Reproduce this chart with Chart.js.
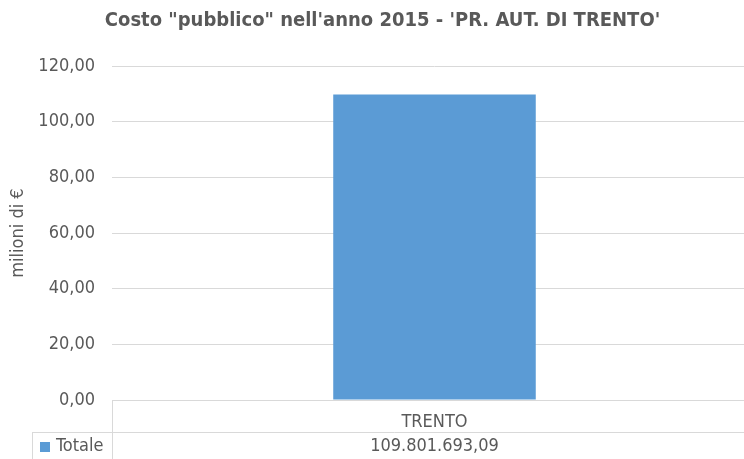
<!DOCTYPE html>
<html lang="it">

<head>
    <meta charset="UTF-8">
    <title>Costo pubblico 2015</title>
    <script src="https://cdn.jsdelivr.net/npm/chart.js"></script>
    <style>
        body {
            margin: 0;
            overflow: hidden;
            background: #fff;
        }

        .container {
            width: 757px;
            height: 459px;
        }
    </style>
</head>

<body>
    <div class="container">
        <canvas id="grafico"></canvas>
    </div>
    <script>
        const categories = ['TRENTO'];
        const seriesName = 'Totale';
        const totaliEuro = [109801693.09];
        const yMin = 0, yMax = 120, yStep = 20;

        const barColor = '#5B9BD5';
        const textColor = '#595959';
        const lineColor = '#d9d9d9';
        const fontFamily = "'Liberation Sans Narrow', 'DejaVu Sans Condensed', 'Liberation Sans', sans-serif";

        // valori in milioni per il grafico
        const valoriMln = totaliEuro.map(v => v / 1e6);

        function formatIt(v) {
            const parts = v.toFixed(2).split('.');
            parts[0] = parts[0].replace(/\B(?=(\d{3})+(?!\d))/g, '.');
            return parts.join(',');
        }

        // tabella dati sotto l'asse x
        const dataTable = {
            id: 'dataTable',
            afterDraw(chart) {
                const ctx = chart.ctx;
                const area = chart.chartArea;
                const x = chart.scales.x;
                const rowY = 432;
                const bottom = chart.height;
                ctx.save();
                ctx.strokeStyle = lineColor;
                ctx.lineWidth = 1;
                ctx.beginPath();
                ctx.moveTo(area.left + 0.5, area.bottom);
                ctx.lineTo(area.left + 0.5, bottom);
                ctx.moveTo(32.5, rowY + 0.5);
                ctx.lineTo(area.right, rowY + 0.5);
                ctx.moveTo(32.5, rowY);
                ctx.lineTo(32.5, bottom);
                ctx.stroke();

                ctx.fillStyle = barColor;
                ctx.fillRect(40, 442, 10, 10);
                ctx.font = '18px ' + fontFamily;
                ctx.fillStyle = textColor;
                ctx.textBaseline = 'middle';
                ctx.textAlign = 'left';
                ctx.fillText(seriesName, 56, 446);
                ctx.textAlign = 'center';
                totaliEuro.forEach((v, i) => {
                    ctx.fillText(formatIt(v), x.getPixelForValue(i), 446);
                });
                ctx.restore();
            }
        };

        const ctx = document.getElementById('grafico').getContext('2d');
        new Chart(ctx, {
            type: 'bar',
            data: {
                labels: categories,
                datasets: [{
                    label: seriesName,
                    data: valoriMln,
                    backgroundColor: barColor,
                    categoryPercentage: 1,
                    barPercentage: 0.314
                }]
            },
            options: {
                responsive: true,
                maintainAspectRatio: false,
                animation: false,
                layout: { padding: { top: 9, right: 0, left: 8, bottom: 0 } },
                plugins: {
                    legend: { display: false },
                    tooltip: { enabled: false },
                    title: {
                        display: true,
                        text: "Costo \"pubblico\" nell'anno 2015 - 'PR. AUT. DI TRENTO'",
                        color: textColor,
                        font: { family: fontFamily, size: 20, weight: 'bold' },
                        padding: { top: 0, bottom: 33 }
                    }
                },
                scales: {
                    x: {
                        grid: { display: false },
                        border: { display: true, color: lineColor },
                        ticks: {
                            color: textColor,
                            font: { family: fontFamily, size: 18 },
                            padding: 4
                        },
                        afterFit(scale) { scale.height = 59; }
                    },
                    y: {
                        min: yMin,
                        max: yMax,
                        border: { display: false },
                        grid: { color: lineColor, drawTicks: false },
                        ticks: {
                            stepSize: yStep,
                            color: textColor,
                            padding: 17,
                            font: { family: fontFamily, size: 18 },
                            callback: v => formatIt(v)
                        },
                        title: {
                            display: true,
                            text: 'milioni di €',
                            color: textColor,
                            font: { family: fontFamily, size: 18 },
                            padding: { top: 0, bottom: 0 }
                        },
                        afterFit(scale) { scale.width = 104; }
                    }
                }
            },
            plugins: [dataTable]
        });
    </script>
</body>

</html>
